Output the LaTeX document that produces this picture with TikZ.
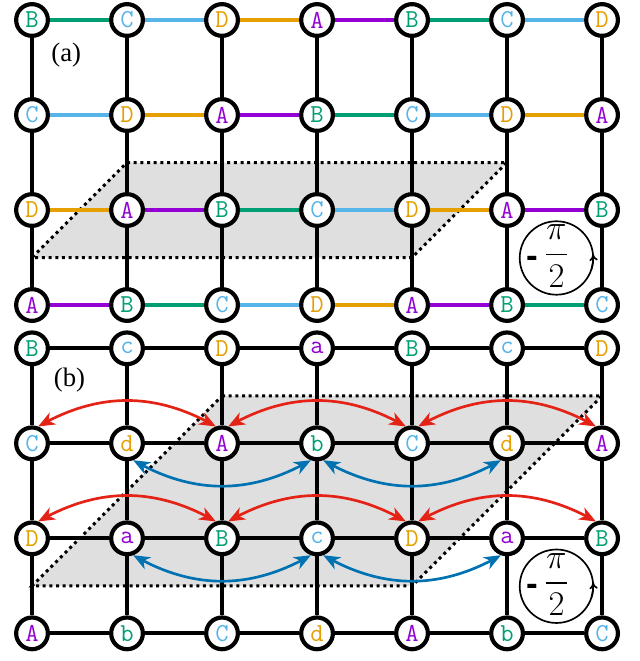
\documentclass[tikz,border=0pt]{standalone}
\usepackage{amsmath}
\usepackage{fontspec}
\newfontfamily\labfont{Liberation Serif}
\newfontfamily\dashfont{Liberation Sans}
\usepackage{tikz}
\usetikzlibrary{arrows.meta,bending}
\definecolor{c0}{RGB}{148,0,211}
\definecolor{c1}{RGB}{0,158,115}
\definecolor{c2}{RGB}{86,180,233}
\definecolor{c3}{RGB}{230,159,0}
\definecolor{redarr}{RGB}{228,34,22}
\definecolor{bluearr}{RGB}{0,114,178}
\pgfdeclarelayer{bg}
\pgfdeclarelayer{edges}
\pgfsetlayers{bg,edges,main}
\newcommand{\fluxtext}{\smash{\raisebox{-3.2pt}{\llap{\raisebox{-2.3pt}{\fontsize{21}{21}\dashfont\bfseries -}\hspace{3.5pt}}$\dfrac{\pi}{2}$}}}

\begin{document}
\begin{tikzpicture}[x=2cm,y=2cm,
	site/.style={circle,draw,line width=2.5pt,fill=white,minimum size=19pt,inner sep=0pt,font=\fontsize{15.5}{17}\ttfamily},
	bond/.style={line width=2.4pt},
	cbond/.style={line width=2.1pt},
	cell/.style={fill=gray!25,draw=black,line width=1.8pt,dash pattern=on 1.8pt off 2.2pt},
	hop/.style={line width=1.6pt,{Stealth[length=10pt,width=8pt,inset=3pt]}-{Stealth[length=10pt,width=8pt,inset=3pt]}},
	panel/.style={font=\fontsize{16}{19}\labfont},
	flux/.style={circle,draw,line width=1pt,minimum size=44pt,inner sep=0pt,outer sep=0pt,font=\huge}]
			\useasboundingbox (-0.337,0.2105) rectangle (6.389,-6.747);
			\foreach \row in {0,...,3} {
				\foreach \col in {0,...,6} {
					\pgfmathtruncatemacro\kk{mod(\col+\row+1,4)}
					\node[site,text=c\kk] (a\row\col) at (\col,-\row) {\ifcase\kk\relax A\or B\or C\or D\fi};
					\node[site,text=c\kk] (b\row\col) at (\col,-3.456-\row) {\ifodd\col\relax\ifcase\kk\relax a\or b\or c\or d\fi\else\ifcase\kk\relax A\or B\or C\or D\fi\fi};
				}
			}
			\begin{pgfonlayer}{bg}
				\path[cell] (1,-1.5) -- (5,-1.5) -- (4,-2.5) -- (0,-2.5) -- cycle;
				\path[cell] (2,-3.956) -- (6,-3.956) -- (4,-5.956) -- (0,-5.956) -- cycle;
			\end{pgfonlayer}
			\begin{pgfonlayer}{edges}
				\foreach \row in {0,...,3} {
					\foreach \col [evaluate=\col as \nx using int(\col+1)] in {0,...,5} {
						\pgfmathtruncatemacro\kk{mod(\col+\row+1,4)}
						\draw[cbond,color=c\kk] (a\row\col) -- (a\row\nx);
						\draw[bond] (b\row\col) -- (b\row\nx);
					}
				}
				\foreach \row [evaluate=\row as \ny using int(\row+1)] in {0,1,2} {
					\foreach \col in {0,...,6} {
						\draw[bond] (a\row\col) -- (a\ny\col);
						\draw[bond] (b\row\col) -- (b\ny\col);
					}
				}
			\end{pgfonlayer}
			\node[panel] (la) at (0.36,-0.37) {(a)};
			\node[panel] (lb) at (0.395,-3.795) {(b)};
			\node[flux] (fa) at (5.52,-2.505) {\fluxtext};
			\node[flux] (fb) at (5.52,-5.96) {\fluxtext};
			\draw[line width=1pt,-{To[length=4pt,width=5pt]}] (fa.-18) arc[start angle=-18,end angle=6,radius=22pt];
			\draw[line width=1pt,-{To[length=4pt,width=5pt]}] (fb.-18) arc[start angle=-18,end angle=6,radius=22pt];
			\foreach \row in {1,2} {
				\foreach \col [evaluate=\col as \nx using int(\col+2)] in {0,2,4}
					\draw[hop,redarr] (b\row\col.70) to[bend left=30] (b\row\nx.110);
				\foreach \col [evaluate=\col as \nx using int(\col+2)] in {1,3}
					\draw[hop,bluearr] (b\row\col.-70) to[bend right=30] (b\row\nx.-110);
			}
		\end{tikzpicture}
\end{document}
